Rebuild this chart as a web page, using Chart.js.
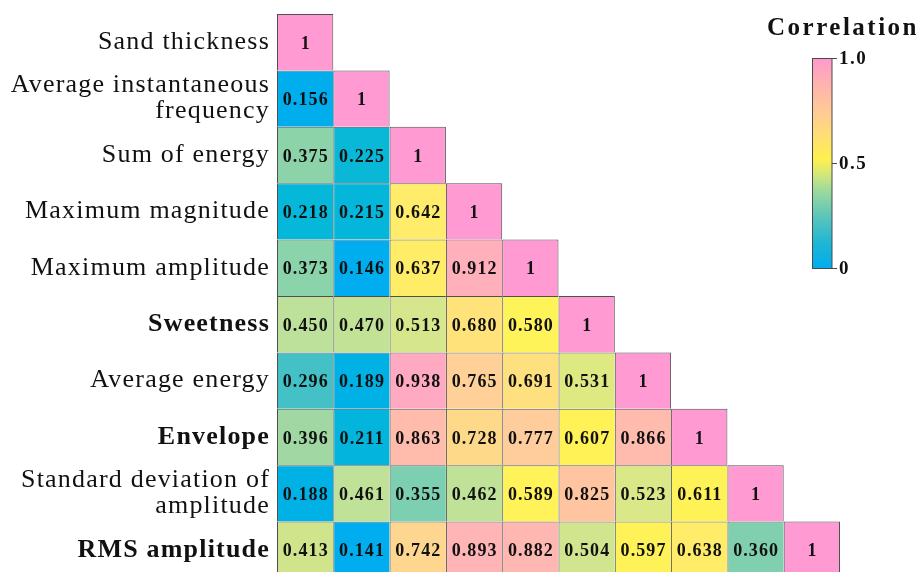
<!DOCTYPE html>
<html><head><meta charset="utf-8">
<script src="https://cdn.jsdelivr.net/npm/chart.js@4.4.1/dist/chart.umd.min.js"></script>
<style>
html,body{margin:0;padding:0;background:#fff;overflow:hidden;}
#wrap{position:relative;width:919px;height:580px;}
</style></head><body>
<div id="wrap"><canvas id="c"></canvas></div>
<script>
// ---- data ----
const variables = ["Sand thickness", ["Average instantaneous", "frequency"], "Sum of energy",
  "Maximum magnitude", "Maximum amplitude", "Sweetness", "Average energy", "Envelope",
  ["Standard deviation of", "amplitude"], "RMS amplitude"];
const boldVariables = ["Sweetness", "Envelope", "RMS amplitude"];
const sandThickness    = [1];
const avgInstFrequency = [0.156, 1];
const sumOfEnergy      = [0.375, 0.225, 1];
const maxMagnitude     = [0.218, 0.215, 0.642, 1];
const maxAmplitude     = [0.373, 0.146, 0.637, 0.912, 1];
const sweetness        = [0.450, 0.470, 0.513, 0.680, 0.580, 1];
const averageEnergy    = [0.296, 0.189, 0.938, 0.765, 0.691, 0.531, 1];
const envelope         = [0.396, 0.211, 0.863, 0.728, 0.777, 0.607, 0.866, 1];
const stdDevAmplitude  = [0.188, 0.461, 0.355, 0.462, 0.589, 0.825, 0.523, 0.611, 1];
const rmsAmplitude     = [0.413, 0.141, 0.742, 0.893, 0.882, 0.504, 0.597, 0.638, 0.360, 1];
const colorbarTicks = [0, 0.5, 1.0];
const colorbarTickLabels = ["0", "0.5", "1.0"];
const colorbarTitle = "Correlation";

const rows = [sandThickness, avgInstFrequency, sumOfEnergy, maxMagnitude, maxAmplitude,
  sweetness, averageEnergy, envelope, stdDevAmplitude, rmsAmplitude];
const names = variables.map(v => Array.isArray(v) ? v.join(' ') : v);

// ---- styling ----
const SERIF = '"Liberation Serif", "Times New Roman", serif';
const cellStops = [
  [0.00, '#00a9f2'], [0.15, '#00aeef'], [0.19, '#00b1e6'], [0.22, '#05b7d8'],
  [0.30, '#46c2c5'], [0.355, '#7ccfb1'], [0.38, '#90d4a8'], [0.40, '#a4d8a0'],
  [0.413, '#d0e48c'], [0.43, '#c4e196'], [0.45, '#bde09a'], [0.47, '#c2e296'],
  [0.52, '#d8e78a'], [0.54, '#e4eb7c'],
  [0.58, '#fff35a'], [0.61, '#fff256'], [0.64, '#ffec6a'], [0.69, '#ffe07e'],
  [0.74, '#ffd78e'], [0.78, '#ffcc9c'], [0.83, '#ffc4a2'], [0.87, '#ffbaae'],
  [0.90, '#ffb3b8'], [0.94, '#ffa9c3'], [1.00, '#ff9ad2']
];
function hex2rgb(h){return [parseInt(h.slice(1,3),16),parseInt(h.slice(3,5),16),parseInt(h.slice(5,7),16)];}
function cmap(v){
  for (let k = 1; k < cellStops.length; k++) {
    if (v <= cellStops[k][0]) {
      const [v0,c0] = cellStops[k-1], [v1,c1] = cellStops[k];
      const t = (v - v0) / (v1 - v0), a = hex2rgb(c0), b = hex2rgb(c1);
      return `rgb(${a.map((x,i)=>Math.round(x+(b[i]-x)*t)).join(',')})`;
    }
  }
  return cellStops[cellStops.length-1][1];
}
const barStops = [[0,'#00adef'],[0.12,'#1fb6d4'],[0.25,'#5cc6ba'],[0.37,'#9cda9c'],
  [0.45,'#d4e878'],[0.52,'#fff04e'],[0.62,'#ffe070'],[0.75,'#ffca96'],[0.88,'#ffb2b0'],[1,'#ff99cc']];

const spacingPlugin = {
  id: 'spacing',
  beforeLayout(chart){ chart.ctx.letterSpacing = '1.2px'; },
  beforeDraw(chart){ chart.ctx.letterSpacing = '1.2px'; }
};

const cellTextPlugin = {
  id: 'cellText',
  afterDatasetsDraw(chart){
    const ctx = chart.ctx;
    ctx.save();
    ctx.font = `bold 18px ${SERIF}`;
    ctx.letterSpacing = '1.1px';
    ctx.fillStyle = '#111';
    ctx.textAlign = 'center';
    ctx.textBaseline = 'middle';
    rows.forEach((vals, i) => {
      const meta = chart.getDatasetMeta(i);
      vals.forEach((v, j) => {
        const el = meta.data[j];
        const txt = v === 1 ? '1' : v.toFixed(3);
        ctx.fillText(txt, el.x + 0.6, (el.y + el.base) / 2 + 2);
      });
    });
    ctx.restore();
  }
};

const colorbarPlugin = {
  id: 'colorbar',
  afterDraw(chart){
    const ctx = chart.ctx;
    const x = 812.5, top = 58.5, w = 19.5, h = 210;
    ctx.save();
    const g = ctx.createLinearGradient(0, top + h, 0, top);
    barStops.forEach(([p, c]) => g.addColorStop(p, c));
    ctx.fillStyle = g;
    ctx.fillRect(x, top, w, h);
    ctx.strokeStyle = '#4a4a4a';
    ctx.lineWidth = 1;
    ctx.strokeRect(x, top, w, h);
    ctx.font = `bold 19px ${SERIF}`;
    ctx.letterSpacing = '1.5px';
    ctx.fillStyle = '#111';
    ctx.textAlign = 'left';
    ctx.textBaseline = 'middle';
    colorbarTicks.forEach((t, k) => {
      const y = top + h - t * h;
      ctx.beginPath();
      ctx.moveTo(x + w, y);
      ctx.lineTo(x + w + 5, y);
      ctx.stroke();
      ctx.fillText(colorbarTickLabels[k], x + w + 7, y + 1);
    });
    ctx.font = `bold 25px ${SERIF}`;
    ctx.letterSpacing = '2.5px';
    ctx.textBaseline = 'alphabetic';
    ctx.fillText(colorbarTitle, 767, 35);
    ctx.restore();
  }
};

const datasets = rows.map((vals, i) => ({
  label: names[i],
  data: names.map((_, j) => j < vals.length ? [i, i + 1] : null),
  backgroundColor: ctx => cmap(rows[ctx.datasetIndex][ctx.dataIndex]),
  borderColor: '#505050',
  borderWidth: ctx => ({ left: 1, top: 1,
    right: ctx.dataIndex === ctx.datasetIndex ? 1 : 0,
    bottom: ctx.datasetIndex === rows.length - 1 ? 1 : 0 }),
  borderSkipped: false,
  inflateAmount: 0,
  grouped: false,
  barPercentage: 1,
  categoryPercentage: 1
}));

new Chart(document.getElementById('c'), {
  type: 'bar',
  data: { labels: names, datasets },
  options: {
    responsive: true,
    maintainAspectRatio: false,
    animation: false,
    layout: { padding: { top: 14, right: 79, bottom: 2, left: 0 } },
    plugins: { legend: { display: false }, tooltip: { enabled: false } },
    scales: {
      x: { type: 'category', display: false, offset: true },
      y: {
        type: 'linear', reverse: true, min: 0, max: rows.length,
        grid: { display: false, drawTicks: false },
        border: { display: false },
        afterBuildTicks: scale => { scale.ticks = variables.map((_, i) => ({ value: i + 0.5 })); },
        afterFit: scale => { scale.width = 277; scale.paddingTop = 0; scale.paddingBottom = 0; },
        ticks: {
          padding: 7,
          color: '#111',
          autoSkip: false,
          callback: (value, index) => variables[index],
          font: ctx => ({ family: SERIF, size: 26, lineHeight: 1.0,
            weight: boldVariables.includes(names[ctx.index]) ? 'bold' : 'normal' })
        }
      }
    }
  },
  plugins: [spacingPlugin, cellTextPlugin, colorbarPlugin]
});
</script>
</body></html>
